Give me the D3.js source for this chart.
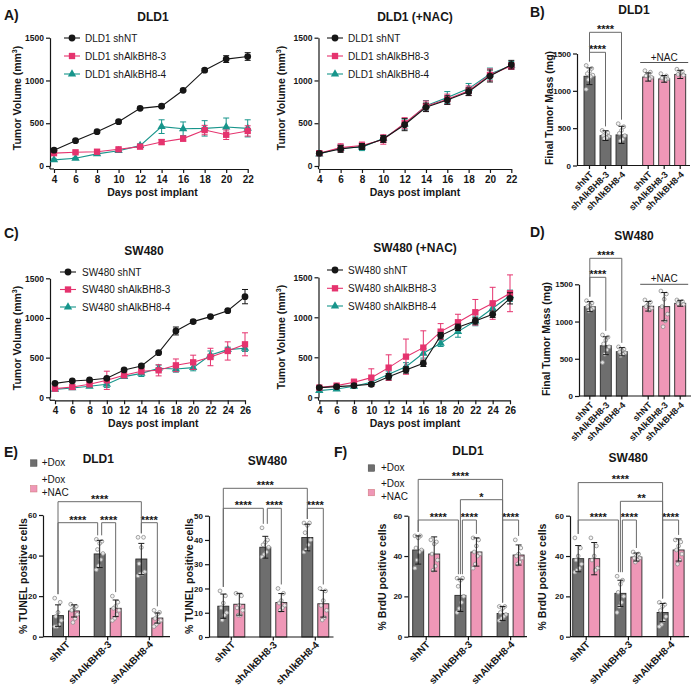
<!DOCTYPE html>
<html><head><meta charset="utf-8">
<script src="https://cdn.jsdelivr.net/npm/d3@7"></script>
<style>body{margin:0;background:#fff}</style>
</head><body><script>
// ---------------- DATA ----------------
const volTicks = [0, 500, 1000, 1500];
const daysDLD1 = [4, 6, 8, 10, 12, 14, 16, 18, 20, 22];
const daysSW480 = [4, 6, 8, 10, 12, 14, 16, 18, 20, 22, 24, 26];
const seriesNames = ["shNT", "shAlkBH8-3", "shAlkBH8-4"];

// DLD1 tumor volume
const dld1_shNT = [185, 296, 401, 518, 674, 700, 885, 1120, 1250, 1280];
const dld1_shNT_err = [20, 15, 15, 15, 15, 15, 15, 20, 40, 45];
const dld1_sh3 = [150, 160, 167, 195, 226, 280, 320, 420, 365, 410];
const dld1_sh3_err = [15, 15, 15, 15, 20, 30, 30, 55, 55, 60];
const dld1_sh4 = [72, 90, 142, 179, 238, 460, 435, 440, 456, 440];
const dld1_sh4_err = [10, 10, 15, 15, 20, 80, 80, 90, 105, 100];
// DLD1 +NAC
const dld1nac_shNT = [148, 199, 228, 316, 483, 686, 771, 868, 1052, 1185];
const dld1nac_shNT_err = [20, 40, 35, 40, 70, 50, 50, 45, 70, 50];
const dld1nac_sh3 = [150, 215, 240, 310, 500, 700, 780, 880, 1065, 1170];
const dld1nac_sh3_err = [25, 45, 40, 55, 65, 60, 60, 55, 70, 40];
const dld1nac_sh4 = [140, 210, 220, 320, 490, 705, 800, 905, 1075, 1175];
const dld1nac_sh4_err = [20, 40, 40, 40, 60, 60, 70, 60, 70, 45];
// SW480
const sw_shNT = [176, 206, 218, 240, 345, 395, 563, 836, 954, 1017, 1092, 1269];
const sw_shNT_err = [10, 10, 10, 10, 15, 15, 15, 50, 20, 15, 15, 90];
const sw_sh3 = [109, 130, 164, 214, 277, 328, 340, 403, 441, 508, 584, 668];
const sw_sh3_err = [15, 15, 20, 115, 25, 30, 70, 80, 90, 110, 115, 145];
const sw_sh4 = [100, 118, 139, 164, 261, 302, 366, 357, 374, 534, 601, 618];
const sw_sh4_err = [10, 10, 15, 40, 20, 40, 40, 40, 40, 50, 30, 40];
// SW480 +NAC
const swnac_shNT = [121, 133, 146, 163, 258, 342, 425, 771, 875, 954, 1038, 1237];
const swnac_shNT_err = [10, 10, 20, 20, 40, 40, 40, 40, 40, 40, 40, 70];
const swnac_sh3 = [121, 146, 188, 246, 371, 508, 621, 821, 938, 1063, 1175, 1300];
const swnac_sh3_err = [15, 20, 40, 110, 160, 220, 210, 100, 100, 160, 200, 230];
const swnac_sh4 = [83, 104, 138, 188, 288, 383, 550, 675, 821, 954, 1113, 1270];
const swnac_sh4_err = [15, 15, 20, 30, 40, 50, 60, 40, 70, 60, 60, 70];

// Final tumor mass
const massGroups = ["Dox", "NAC"];
const massCats = ["shNT", "shAlkBH8-3", "shAlkBH8-4"];
const dld1Mass = [1195, 400, 410];
const dld1MassErr = [112, 65, 115];
const dld1MassNAC = [1185, 1160, 1220];
const dld1MassNACErr = [55, 45, 55];
const dld1MassDots = [[1340, 1300, 1260, 1230, 1210, 1190, 1150, 1020], [470, 440, 420, 400, 390, 370, 360], [560, 520, 470, 430, 400, 350, 330]];
const dld1MassNACDots = [[1270, 1250, 1220, 1200, 1180, 1160], [1230, 1200, 1180, 1170, 1160, 1150], [1290, 1260, 1240, 1220, 1210]];
const sw480Mass = [1200, 675, 595];
const sw480MassErr = [67, 120, 55];
const sw480MassNAC = [1205, 1200, 1245];
const sw480MassNACErr = [65, 190, 40];
const sw480MassDots = [[1280, 1250, 1220, 1200, 1180, 1160, 1140], [820, 790, 750, 700, 660, 620, 560, 450], [660, 630, 610, 590, 580, 560, 540]];
const sw480MassNACDots = [[1290, 1260, 1230, 1200, 1180, 1150], [1410, 1370, 1300, 1200, 1100, 1010, 930], [1290, 1270, 1250, 1240, 1230]];
const massSig = [["Dox|shNT", "Dox|shAlkBH8-3", "****", 0], ["Dox|shNT", "Dox|shAlkBH8-4", "****", 1]];

// TUNEL / BrdU
const treatments = ["Dox", "NAC"];
const treatLabels = ["+Dox", "+Dox\n+NAC"];
const tunelDLD1Dox = [10.4, 40.8, 38.3], tunelDLD1DoxErr = [5.3, 6.7, 7.7];
const tunelDLD1NAC = [12.7, 14, 9.2], tunelDLD1NACErr = [3, 4.1, 2.5];
const tunelDLD1DoxDots = [[19, 17, 12, 10, 8, 6, 5, 5], [48, 47, 46, 43, 41, 38, 35, 33], [49, 49, 44, 36, 32, 31, 31, 30]];
const tunelDLD1NACDots = [[16, 15, 14, 13, 11, 9, 7], [20, 17, 15, 14, 13, 11, 9, 8], [13, 12, 11, 9, 8, 7, 6, 5]];
const tunelSWDox = [12.7, 37, 41], tunelSWDoxErr = [5, 4.5, 5.5];
const tunelSWNAC = [13.5, 14.2, 13.7], tunelSWNACErr = [4.5, 3.7, 5.5];
const tunelSWDoxDots = [[19, 17, 14, 12, 10, 9, 7], [45, 40, 39, 38, 37, 35, 34, 33], [47, 47, 46, 43, 40, 38, 36, 35]];
const tunelSWNACDots = [[18, 17, 13, 12, 11, 9, 9], [20, 18, 15, 14, 13, 12, 11], [20, 19, 15, 13, 11, 8, 7]];
const brduDLD1Dox = [43, 20.5, 11.5], brduDLD1DoxErr = [7, 8, 3.5];
const brduDLD1NAC = [41, 42, 40.5], brduDLD1NACErr = [8.5, 7, 5];
const brduDLD1DoxDots = [[50, 50, 49, 44, 43, 42, 38, 34], [29, 29, 28, 25, 20, 17, 14, 12], [15, 15, 14, 12, 11, 10, 9, 8]];
const brduDLD1NACDots = [[48, 47, 46, 41, 38, 35, 33], [49, 48, 45, 42, 41, 40, 36, 34], [48, 44, 41, 40, 39, 37, 36]];
const brduSWDox = [38.7, 21.5, 12], brduSWDoxErr = [6.5, 6.5, 4.5];
const brduSWNAC = [38.7, 39.5, 43], brduSWNACErr = [8, 2, 5.5];
const brduSWDoxDots = [[49, 44, 40, 38, 36, 34, 33, 32], [30, 28, 26, 22, 20, 17, 15, 12], [17, 16, 15, 13, 10, 8, 6, 5]];
const brduSWNACDots = [[49, 45, 40, 38, 34, 33], [42, 41, 40, 39, 39, 38, 37], [48, 47, 45, 43, 41, 38, 36]];
const tunelSig = [["shNT|Dox", "shAlkBH8-3|Dox", "****", 0], ["shAlkBH8-3|Dox", "shAlkBH8-3|NAC", "****", 0], ["shAlkBH8-4|Dox", "shAlkBH8-4|NAC", "****", 0], ["shNT|Dox", "shAlkBH8-4|Dox", "****", 1]];
const brduDLD1Sig = [["shNT|Dox", "shAlkBH8-3|Dox", "****", 0], ["shAlkBH8-3|Dox", "shAlkBH8-3|NAC", "****", 0], ["shAlkBH8-4|Dox", "shAlkBH8-4|NAC", "****", 0], ["shAlkBH8-3|Dox", "shAlkBH8-4|Dox", "*", 1], ["shNT|Dox", "shAlkBH8-4|Dox", "****", 2]];
const brduSWSig = [["shNT|Dox", "shAlkBH8-3|Dox", "****", 0], ["shAlkBH8-3|Dox", "shAlkBH8-3|NAC", "****", 0], ["shAlkBH8-4|Dox", "shAlkBH8-4|NAC", "****", 0], ["shAlkBH8-3|Dox", "shAlkBH8-4|Dox", "**", 1], ["shNT|Dox", "shAlkBH8-4|Dox", "****", 2]];

// ---------------- STYLE ----------------
const FONT = '"Liberation Sans", Arial, Helvetica, sans-serif';
const INK = "#161616";
const lineColors = ["#161616", "#e5336e", "#17958b"];
const symbols = [d3.symbolCircle, d3.symbolSquare, d3.symbolTriangle];
const symSizes = [36, 40, 30];
const GREY = "#6e6e6e", PINK = "#ef97b7";
const fmt = d3.format("d");

const svg = d3.select("body").append("svg").attr("width", 700).attr("height", 691).style("display", "block");

function txt(g, x, y, s, o = {}) {
  return g.append("text").attr("x", x).attr("y", y).attr("font-family", FONT)
    .attr("font-size", o.size || 10).attr("font-weight", o.bold ? "bold" : "normal")
    .attr("text-anchor", o.anchor || "start").attr("fill", INK).text(s);
}
function styleAxis(sel, fs) {
  sel.select(".domain").attr("stroke", INK).attr("stroke-width", 1.2);
  sel.selectAll(".tick line").attr("stroke", INK).attr("stroke-width", 1.2);
  sel.selectAll(".tick text").attr("font-family", FONT).attr("font-size", fs).attr("font-weight", "bold").attr("fill", INK);
}
function yLabel(g, bx, cy, s, sup) {
  const t = g.append("text").attr("transform", `translate(${bx},${cy}) rotate(-90)`)
    .attr("text-anchor", "middle").attr("font-family", FONT).attr("font-size", 10.5)
    .attr("font-weight", "bold").attr("fill", INK);
  t.append("tspan").text(s);
  if (sup) {
    t.append("tspan").attr("font-size", 7).attr("dy", -4).text(sup);
    t.append("tspan").attr("dy", 4).text(")");
  }
}

// panel letters
[["A)", 4, 20], ["B)", 530, 17], ["C)", 4, 238], ["D)", 530, 237], ["E)", 4, 457], ["F)", 334, 457]]
  .forEach(([s, x, y]) => txt(svg, x, y, s, { size: 14, bold: true }));

// ---------------- LINE CHARTS ----------------
function lineChart(c) {
  const g = svg.append("g");
  const x = d3.scaleLinear().domain([c.days[0], c.days[c.days.length - 1]]).range([c.x0, c.x1]);
  const y = d3.scaleLinear().domain([0, 1500]).range([c.y0, c.y1]);
  const ya = g.append("g").attr("transform", `translate(${c.ax},0)`)
    .call(d3.axisLeft(y).tickValues(volTicks).tickFormat(fmt).tickSize(4).tickSizeOuter(0).tickPadding(2));
  styleAxis(ya, 8.5);
  g.append("line").attr("x1", c.ax).attr("x2", c.ax).attr("y1", c.y0).attr("y2", c.y0 + 3).attr("stroke", INK).attr("stroke-width", 1.2);
  const xa = g.append("g").attr("transform", `translate(0,${c.y0 + 3})`)
    .call(d3.axisBottom(x).tickValues(c.days).tickFormat(fmt).tickSize(4).tickSizeOuter(0).tickPadding(3));
  styleAxis(xa, 10);
  g.append("line").attr("x1", c.ax).attr("x2", c.x0).attr("y1", c.y0 + 3).attr("y2", c.y0 + 3).attr("stroke", INK).attr("stroke-width", 1.2);

  const order = [2, 1, 0];
  order.forEach(si => {
    const vals = c.series[si][0], errs = c.series[si][1], col = lineColors[si];
    const pts = c.days.map((d, i) => ({ d, v: vals[i], e: errs[i] }));
    const eg = g.append("g").attr("stroke", col).attr("stroke-width", 1);
    pts.forEach(p => {
      const px = x(p.d);
      eg.append("line").attr("x1", px).attr("x2", px).attr("y1", y(p.v - p.e)).attr("y2", y(p.v + p.e));
      eg.append("line").attr("x1", px - 3).attr("x2", px + 3).attr("y1", y(p.v + p.e)).attr("y2", y(p.v + p.e));
      eg.append("line").attr("x1", px - 3).attr("x2", px + 3).attr("y1", y(p.v - p.e)).attr("y2", y(p.v - p.e));
    });
    g.append("path").datum(pts).attr("fill", "none").attr("stroke", col).attr("stroke-width", 1.1)
      .attr("d", d3.line().x(p => x(p.d)).y(p => y(p.v)));
    g.selectAll(null).data(pts).enter().append("path")
      .attr("transform", p => `translate(${x(p.d)},${y(p.v)})`)
      .attr("d", d3.symbol().type(symbols[si]).size(symSizes[si])).attr("fill", col);
  });
  // legend
  seriesNames.forEach((n, i) => {
    const ly = c.legY[i];
    g.append("line").attr("x1", c.legX - 8).attr("x2", c.legX + 8).attr("y1", ly).attr("y2", ly).attr("stroke", lineColors[i]).attr("stroke-width", 1.1);
    g.append("path").attr("transform", `translate(${c.legX},${ly})`).attr("d", d3.symbol().type(symbols[i]).size(symSizes[i])).attr("fill", lineColors[i]);
    txt(g, c.legTX, ly + 3.6, c.prefix + " " + n, { size: 10 });
  });
  txt(g, c.titleX, c.titleY, c.title, { size: 12, bold: true, anchor: "middle" });
  txt(g, c.xlabX, c.xlabY, "Days post implant", { size: 10.5, bold: true, anchor: "middle" });
  yLabel(g, c.ylabX, c.ylabY, "Tumor Volume (mm", "3");
}

lineChart({ days: daysDLD1, ax: 50, x0: 54, x1: 247.7, y0: 166, y1: 37.7, prefix: "DLD1",
  series: [[dld1_shNT, dld1_shNT_err], [dld1_sh3, dld1_sh3_err], [dld1_sh4, dld1_sh4_err]],
  legX: 72, legTX: 85, legY: [38, 56, 74], title: "DLD1", titleX: 153, titleY: 20.7,
  xlabX: 152.5, xlabY: 196, ylabX: 21, ylabY: 98 });
lineChart({ days: daysDLD1, ax: 318.5, x0: 319.3, x1: 511.3, y0: 166, y1: 37.7, prefix: "DLD1",
  series: [[dld1nac_shNT, dld1nac_shNT_err], [dld1nac_sh3, dld1nac_sh3_err], [dld1nac_sh4, dld1nac_sh4_err]],
  legX: 335, legTX: 348, legY: [38, 56, 74], title: "DLD1 (+NAC)", titleX: 415, titleY: 20.7,
  xlabX: 415, xlabY: 196, ylabX: 285, ylabY: 98 });
lineChart({ days: daysSW480, ax: 50, x0: 55, x1: 245, y0: 397.3, y1: 278.3, prefix: "SW480",
  series: [[sw_shNT, sw_shNT_err], [sw_sh3, sw_sh3_err], [sw_sh4, sw_sh4_err]],
  legX: 68, legTX: 82, legY: [272, 289.5, 307], title: "SW480", titleX: 144, titleY: 255,
  xlabX: 153.3, xlabY: 427, ylabX: 21, ylabY: 338 });
lineChart({ days: daysSW480, ax: 318.5, x0: 319.3, x1: 510, y0: 397.3, y1: 277.3, prefix: "SW480",
  series: [[swnac_shNT, swnac_shNT_err], [swnac_sh3, swnac_sh3_err], [swnac_sh4, swnac_sh4_err]],
  legX: 335, legTX: 348, legY: [270, 288.3, 306], title: "SW480 (+NAC)", titleX: 415, titleY: 252.3,
  xlabX: 415, xlabY: 427, ylabX: 285, ylabY: 337 });

// ---------------- BAR CHARTS ----------------
function jitter(i) { return ((i * 5) % 7 - 3) * 1.1; }

function barPanel(c) {
  const g = svg.append("g");
  const y = d3.scaleLinear().domain([0, c.ticks[c.ticks.length - 1]]).range([c.y0, c.y1]);
  const nG = c.groups.length, gw = c.subs.length * 16;
  const outer = d3.scaleBand().domain(c.groups).range([c.gx0, c.gx0 + (nG - 1) * c.step + gw]).paddingInner((c.step - gw) / c.step);
  const inner = d3.scaleBand().domain(c.subs).range([0, gw]).paddingInner(5 / 16).paddingOuter(2.5 / 16);
  const bw = inner.bandwidth();
  const bars = c.bars;
  const cx = b => outer(b.group) + inner(b.sub) + bw / 2;
  const byKey = {};
  bars.forEach(b => { byKey[b.key] = b; b.top = Math.max(b.mean + b.err, d3.max(b.dots)); });

  bars.forEach(b => {
    const x0 = cx(b) - bw / 2;
    g.append("rect").attr("x", x0).attr("y", y(b.mean)).attr("width", bw).attr("height", y(0) - y(b.mean))
      .attr("fill", b.fill).attr("stroke", "#2a2a2a").attr("stroke-width", 0.9);
    b.dots.forEach((v, i) => {
      g.append("circle").attr("cx", cx(b) + jitter(i)).attr("cy", y(v)).attr("r", 1.9)
        .attr("fill", "#f2f2f2").attr("fill-opacity", 0.85).attr("stroke", "#8d8d8d").attr("stroke-width", 0.8);
    });
    const X = cx(b), yt = y(b.mean + b.err), yb = y(Math.max(0, b.mean - b.err));
    const eg = g.append("g").attr("stroke", "#1c1c1c").attr("stroke-width", 1);
    eg.append("line").attr("x1", X).attr("x2", X).attr("y1", yt).attr("y2", yb);
    eg.append("line").attr("x1", X - 3).attr("x2", X + 3).attr("y1", yt).attr("y2", yt);
    eg.append("line").attr("x1", X - 3).attr("x2", X + 3).attr("y1", yb).attr("y2", yb);
  });

  // y axis
  const ya = g.append("g").attr("transform", `translate(${c.ax},0)`)
    .call(d3.axisLeft(y).tickValues(c.ticks).tickFormat(fmt).tickSize(4).tickSizeOuter(0).tickPadding(2));
  styleAxis(ya, 8);
  // x axis
  g.append("line").attr("x1", c.ax).attr("x2", c.axEnd).attr("y1", c.y0).attr("y2", c.y0).attr("stroke", INK).attr("stroke-width", 1.2);
  const tickItems = c.labelPerBar ? bars.map(b => ({ x: cx(b), s: b.sub }))
    : c.groups.map(gr => ({ x: outer(gr) + gw / 2, s: gr }));
  tickItems.forEach(t => {
    g.append("line").attr("x1", t.x).attr("x2", t.x).attr("y1", c.y0).attr("y2", c.y0 + 3.5).attr("stroke", INK).attr("stroke-width", 1.2);
    g.append("text").attr("transform", `translate(${t.x + 2},${c.y0 + c.labOff}) rotate(-45)`)
      .attr("text-anchor", "end").attr("dy", "0.35em").attr("font-family", FONT)
      .attr("font-size", c.labSize).attr("font-weight", "bold").attr("fill", INK).text(t.s);
  });

  // significance brackets
  const shared = {};
  c.sig.forEach(([a, b, , tier]) => { shared[tier + "|R|" + b] = true; shared[tier + "|L|" + a] = true; });
  c.sig.forEach(([a, b, lab, tier]) => {
    const yb = c.bBase - tier * c.bStep;
    let xa = cx(byKey[a]), xb = cx(byKey[b]);
    if (shared[tier + "|R|" + a]) xa += 2;
    if (shared[tier + "|L|" + b]) xb -= 2;
    const la = Math.max(yb, y(byKey[a].top) - 4), lb = Math.max(yb, y(byKey[b].top) - 4);
    g.append("path").attr("d", `M${xa},${la}V${yb}H${xb}V${lb}`).attr("fill", "none")
      .attr("stroke", "#6a6a6a").attr("stroke-width", 1);
    txt(g, (xa + xb) / 2, yb + 0.8, lab, { size: 11, bold: true, anchor: "middle" });
  });

  txt(g, c.titleX, c.titleY, c.title, { size: 12, bold: true, anchor: "middle" });
  yLabel(g, c.ylabX, c.ylabY, c.ylab);
  return { g, outer, gw };
}

function massBars(vals, errs, dots, valsN, errsN, dotsN) {
  const out = [];
  massCats.forEach((s, i) => out.push({ key: "Dox|" + s, group: "Dox", sub: s, mean: vals[i], err: errs[i], dots: dots[i], fill: GREY }));
  massCats.forEach((s, i) => out.push({ key: "NAC|" + s, group: "NAC", sub: s, mean: valsN[i], err: errsN[i], dots: dotsN[i], fill: PINK }));
  return out;
}
function treatBars(vals, errs, dots, valsN, errsN, dotsN) {
  const out = [];
  massCats.forEach((s, i) => {
    out.push({ key: s + "|Dox", group: s, sub: "Dox", mean: vals[i], err: errs[i], dots: dots[i], fill: GREY });
    out.push({ key: s + "|NAC", group: s, sub: "NAC", mean: valsN[i], err: errsN[i], dots: dotsN[i], fill: PINK });
  });
  return out;
}

function nacLabel(p, y) {
  const x0 = p.outer("NAC"), x1 = x0 + p.gw;
  p.g.append("line").attr("x1", x0).attr("x2", x1).attr("y1", y).attr("y2", y).attr("stroke", "#555").attr("stroke-width", 1);
  txt(p.g, (x0 + x1) / 2, y - 2, "+NAC", { size: 10, anchor: "middle" });
}

const pB = barPanel({ groups: massGroups, subs: massCats, bars: massBars(dld1Mass, dld1MassErr, dld1MassDots, dld1MassNAC, dld1MassNACErr, dld1MassNACDots),
  ticks: volTicks, y0: 165.5, y1: 53.5, ax: 577, axEnd: 690, gx0: 581.5, step: 58.7, labelPerBar: true, labOff: 7.5, labSize: 9,
  sig: massSig, bBase: 52.3, bStep: 20, title: "DLD1", titleX: 634, titleY: 13.5, ylab: "Final Tumor Mass (mg)", ylabX: 553, ylabY: 108 });
nacLabel(pB, 62.5);
const pD = barPanel({ groups: massGroups, subs: massCats, bars: massBars(sw480Mass, sw480MassErr, sw480MassDots, sw480MassNAC, sw480MassNACErr, sw480MassNACDots),
  ticks: volTicks, y0: 396, y1: 284.3, ax: 579, axEnd: 691, gx0: 581.8, step: 58.4, labelPerBar: true, labOff: 7.5, labSize: 9,
  sig: massSig, bBase: 277.3, bStep: 19, title: "SW480", titleX: 634, titleY: 240, ylab: "Final Tumor Mass (mg)", ylabX: 550, ylabY: 339 });
nacLabel(pD, 284.3);

barPanel({ groups: massCats, subs: treatments, bars: treatBars(tunelDLD1Dox, tunelDLD1DoxErr, tunelDLD1DoxDots, tunelDLD1NAC, tunelDLD1NACErr, tunelDLD1NACDots),
  ticks: [0, 20, 40, 60], y0: 636.7, y1: 515, ax: 43, axEnd: 170, gx0: 50, step: 41.67, labelPerBar: false, labOff: 6, labSize: 10,
  sig: tunelSig, bBase: 522.7, bStep: 21, title: "DLD1", titleX: 98.3, titleY: 463.3, ylab: "% TUNEL positive cells", ylabX: 26.5, ylabY: 576 });
barPanel({ groups: massCats, subs: treatments, bars: treatBars(tunelSWDox, tunelSWDoxErr, tunelSWDoxDots, tunelSWNAC, tunelSWNACErr, tunelSWNACDots),
  ticks: [0, 10, 20, 30, 40, 50], y0: 637, y1: 515.7, ax: 209, axEnd: 333.5, gx0: 215.3, step: 42, labelPerBar: false, labOff: 6, labSize: 10,
  sig: tunelSig, bBase: 508.3, bStep: 20, title: "SW480", titleX: 267.5, titleY: 465, ylab: "% TUNEL positive cells", ylabX: 193, ylabY: 576 });
barPanel({ groups: massCats, subs: treatments, bars: treatBars(brduDLD1Dox, brduDLD1DoxErr, brduDLD1DoxDots, brduDLD1NAC, brduDLD1NACErr, brduDLD1NACDots),
  ticks: [0, 20, 40, 60], y0: 636.7, y1: 515.7, ax: 408.3, axEnd: 527, gx0: 410.2, step: 42.2, labelPerBar: false, labOff: 6, labSize: 10,
  sig: brduDLD1Sig, bBase: 520, bStep: 20.3, title: "DLD1", titleX: 468, titleY: 455, ylab: "% BrdU positive cells", ylabX: 386, ylabY: 577 });
barPanel({ groups: massCats, subs: treatments, bars: treatBars(brduSWDox, brduSWDoxErr, brduSWDoxDots, brduSWNAC, brduSWNACErr, brduSWNACDots),
  ticks: [0, 20, 40, 60], y0: 636.7, y1: 515.7, ax: 570, axEnd: 689, gx0: 570.2, step: 42.2, labelPerBar: false, labOff: 6, labSize: 10,
  sig: brduSWSig, bBase: 520, bStep: 18.7, title: "SW480", titleX: 628.3, titleY: 461.7, ylab: "% BrdU positive cells", ylabX: 546, ylabY: 577 });

// E / F legends
function treatLegend(sx, sy1, sy2, tx) {
  svg.append("rect").attr("x", sx).attr("y", sy1).attr("width", 6.5).attr("height", 6.5).attr("fill", GREY).attr("stroke", "#444").attr("stroke-width", 0.5);
  txt(svg, tx, sy1 + 6.3, treatLabels[0], { size: 10 });
  svg.append("rect").attr("x", sx).attr("y", sy2).attr("width", 6.5).attr("height", 6.5).attr("fill", PINK).attr("stroke", "#c77").attr("stroke-width", 0.5);
  treatLabels[1].split("\n").forEach((s, i) => txt(svg, tx, sy2 - 2.5 + i * 13.3, s, { size: 10 }));
}
treatLegend(30.5, 459.8, 485.5, 41.7);
treatLegend(368.2, 464.8, 489.3, 381);
</script></body></html>
